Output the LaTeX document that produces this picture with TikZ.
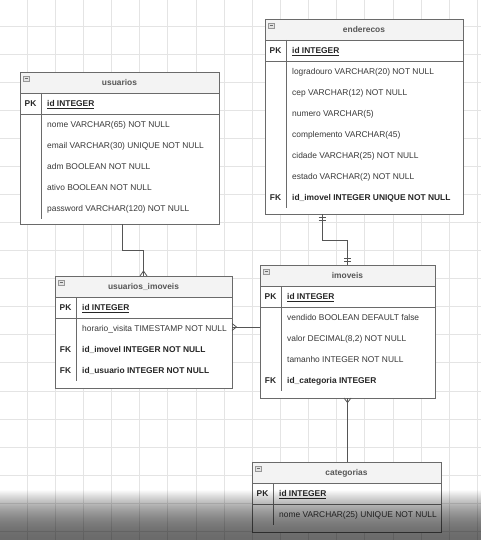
\documentclass[tikz,border=0pt]{standalone}
\usepackage{fontspec}
\setmainfont{Liberation Sans}
\usetikzlibrary{calc}
\definecolor{strokec}{HTML}{6A6A6A}
\definecolor{textc}{HTML}{383838}
\definecolor{headc}{HTML}{F3F3F3}
\definecolor{gridc}{HTML}{E4E4E4}
\definecolor{connc}{HTML}{555555}
\tikzset{
  tbox/.style={rectangle, draw=strokec, fill=white, line width=0.8pt, inner sep=0pt, outer sep=0pt},
  tline/.style={draw=strokec, line width=0.8pt},
  ttitle/.style={font=\fontsize{8.4}{10}\selectfont\bfseries, text=textc!85, inner sep=0pt, text height=6.05pt, text depth=0pt},
  fld/.style={font=\fontsize{8.4}{10}\selectfont, text=textc, anchor=west, inner sep=0pt, text height=6.05pt, text depth=0pt},
  fldkey/.style={fld, font=\fontsize{8.4}{10}\selectfont\bfseries, text=black!85},
  keytxt/.style={font=\fontsize{8.4}{10}\selectfont\bfseries, text=black!85, anchor=center, inner sep=0pt, text height=6.05pt, text depth=0pt},
  conn/.style={draw=connc, line width=0.8pt},
  gridline/.style={draw=gridc, line width=0.7pt},
  icon/.style={draw=strokec!70, fill=gray!22, line width=0.4pt},
}
% #1 name, #2 left, #3 top, #4 width, #5 height, #6 title, #7 body rows
\newcommand\ertable[7]{%
  \node[tbox, minimum width=#4pt, minimum height=#5pt, anchor=north west] (#1) at (#2,#3) {};
  \draw[tline, fill=headc] (#1.north west) rectangle ([shift={(0,21)}]#1.north east);
  \draw[tline] ([shift={(0,42)}]#1.north west) -- ([shift={(0,42)}]#1.north east);
  \draw[tline] ([shift={(21.5,21)}]#1.north west) -- ++(0,{21+21*#7});
  \draw[icon] ([shift={(3,4)}]#1.north west) rectangle ++(6,5);
  \draw[draw=strokec, line width=0.5pt] ([shift={(4.5,6.5)}]#1.north west) -- ++(3,0);
  \node[ttitle] (#1-title) at ([shift={(0,10.5)}]#1.north) {#6};
  \node[keytxt] (#1-pkk) at ([shift={(10.5,31.5)}]#1.north west) {PK};
  \node[fldkey] (#1-pk) at ([shift={(27,31.5)}]#1.north west) {\underline{id INTEGER}};
}
% \errow[style]{table}{index}{name}{text}
\newcommand\errow[5][fld]{%
  \node[#1] (#4) at ([shift={(27,{52.5+21*#3})}]#2.north west) {#5};
}
\newcommand\erfk[3]{%
  \node[keytxt] (#3) at ([shift={(10.5,{52.5+21*#2})}]#1.north west) {FK};
}
\begin{document}
\begin{tikzpicture}[x=1pt,y=-1pt]
\useasboundingbox (0,0) rectangle (481,540);
\fill[white] (0,0) rectangle (481,540);
% grid
\foreach \k in {0,...,16} \draw[gridline] ({27+28.15*\k},0) -- ++(0,540);
\foreach \k in {0,...,18} \draw[gridline] (0,{26+28.07*\k}) -- ++(481,0);

% usuarios
\ertable{usuarios}{20}{72}{199}{152}{usuarios}{5}
\errow{usuarios}{0}{u1}{nome VARCHAR(65) NOT NULL}
\errow{usuarios}{1}{u2}{email VARCHAR(30) UNIQUE NOT NULL}
\errow{usuarios}{2}{u3}{adm BOOLEAN NOT NULL}
\errow{usuarios}{3}{u4}{ativo BOOLEAN NOT NULL}
\errow{usuarios}{4}{u5}{password VARCHAR(120) NOT NULL}

% enderecos
\ertable{enderecos}{265}{19}{198}{195}{enderecos}{7}
\errow{enderecos}{0}{e1}{logradouro VARCHAR(20) NOT NULL}
\errow{enderecos}{1}{e2}{cep VARCHAR(12) NOT NULL}
\errow{enderecos}{2}{e3}{numero VARCHAR(5)}
\errow{enderecos}{3}{e4}{complemento VARCHAR(45)}
\errow{enderecos}{4}{e5}{cidade VARCHAR(25) NOT NULL}
\errow{enderecos}{5}{e6}{estado VARCHAR(2) NOT NULL}
\errow[fldkey]{enderecos}{6}{e7}{id\_imovel INTEGER UNIQUE NOT NULL}
\erfk{enderecos}{6}{e7k}

% usuarios_imoveis
\ertable{ui}{55}{276}{177}{112}{usuarios\_imoveis}{3}
\errow{ui}{0}{ui1}{horario\_visita TIMESTAMP NOT NULL}
\errow[fldkey]{ui}{1}{ui2}{id\_imovel INTEGER NOT NULL}
\erfk{ui}{1}{ui2k}
\errow[fldkey]{ui}{2}{ui3}{id\_usuario INTEGER NOT NULL}
\erfk{ui}{2}{ui3k}

% imoveis
\ertable{imoveis}{260}{265}{175}{133}{imoveis}{4}
\errow{imoveis}{0}{i1}{vendido BOOLEAN DEFAULT false}
\errow{imoveis}{1}{i2}{valor DECIMAL(8,2) NOT NULL}
\errow{imoveis}{2}{i3}{tamanho INTEGER NOT NULL}
\errow[fldkey]{imoveis}{3}{i4}{id\_categoria INTEGER}
\erfk{imoveis}{3}{i4k}

% categorias
\ertable{categorias}{252}{462}{189}{70}{categorias}{1}
\errow{categorias}{0}{c1}{nome VARCHAR(25) UNIQUE NOT NULL}

% connectors
\draw[conn] ([xshift=2.5pt]usuarios.south) -- ++(0,26) -| (ui.north);
\draw[conn] ([shift={(0,-5)}]ui.north) -- ++(-3.5,5);
\draw[conn] ([shift={(0,-5)}]ui.north) -- ++(3.5,5);

\draw[conn] ([xshift=-42pt]enderecos.south) -- ++(0,26) -| (imoveis.north);
\draw[conn] ([shift={(-45.5,3.5)}]enderecos.south) -- ++(7,0);
\draw[conn] ([shift={(-45.5,6.5)}]enderecos.south) -- ++(7,0);
\draw[conn] ([shift={(-3.5,-3.5)}]imoveis.north) -- ++(7,0);
\draw[conn] ([shift={(-3.5,-6.5)}]imoveis.north) -- ++(7,0);

\draw[conn] ([yshift=5pt]ui.east) -- ([yshift=5pt]ui.east -| imoveis.west);
\draw[conn] ([shift={(4.5,-5)}]ui.east) -- ++(-4.5,-3.5);
\draw[conn] ([shift={(4.5,-5)}]ui.east) -- ++(-4.5,3.5);

\draw[conn] (imoveis.south) -- (imoveis.south |- categorias.north);
\draw[conn] ([shift={(0,4.5)}]imoveis.south) -- ++(-3.5,-4.5);
\draw[conn] ([shift={(0,4.5)}]imoveis.south) -- ++(3.5,-4.5);

% bottom darkening
\foreach \i in {0,...,49}{
  \pgfmathsetmacro\op{0.58*(1-(1-(\i+0.5)/50)^2)}
  \fill[black, fill opacity=\op] (0,{490+\i}) rectangle (481,{491+\i});
}
\end{tikzpicture}
\end{document}
